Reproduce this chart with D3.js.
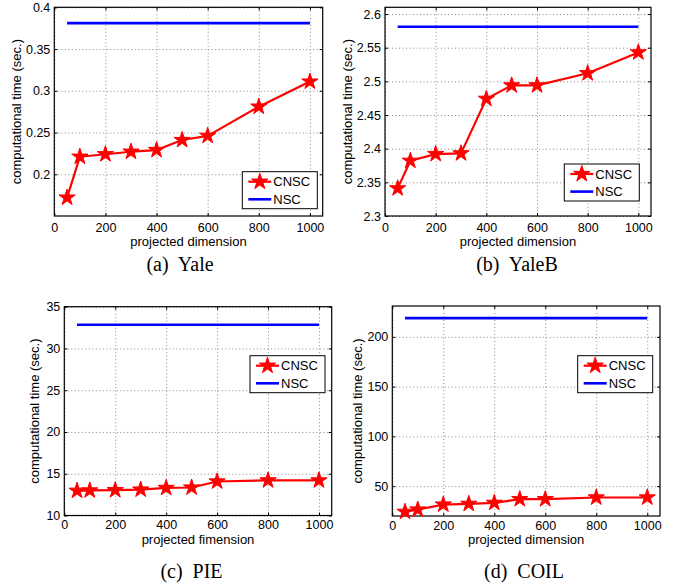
<!DOCTYPE html>
<html>
<head>
<meta charset="utf-8">
<script src="https://cdn.jsdelivr.net/npm/d3@7"></script>
<style>
  body { margin: 0; background: #fff; }
  text { font-family: "Liberation Sans", Arial, sans-serif; }
  .cap { font-family: "Liberation Serif", "Times New Roman", serif; }
</style>
</head>
<body>
<div id="chart"></div>
<script>
// ---- data ----
const dims = [50, 100, 200, 300, 400, 500, 600, 800, 1000];
const xTicks = [0, 200, 400, 600, 800, 1000];

const cnscYale  = [0.172, 0.221, 0.224, 0.227, 0.229, 0.241, 0.246, 0.281, 0.311];
const cnscYaleB = [2.341, 2.382, 2.392, 2.393, 2.474, 2.494, 2.494, 2.512, 2.543];
const cnscPIE   = [12.96, 13.0, 13.03, 13.1, 13.3, 13.35, 14.07, 14.2, 14.2];
const cnscCOIL  = [24.2, 26.5, 31.5, 32.2, 33.2, 36.9, 36.9, 38.6, 38.6];

const nscYale  = 0.381;
const nscYaleB = 2.581;
const nscPIE   = 32.84;
const nscCOIL  = 218.8;

const yTicksYale  = [0.2, 0.25, 0.3, 0.35, 0.4];
const yTicksYaleB = [2.3, 2.35, 2.4, 2.45, 2.5, 2.55, 2.6];
const yTicksPIE   = [10, 15, 20, 25, 30, 35];
const yTicksCOIL  = [50, 100, 150, 200];

const seriesNames = ['CNSC', 'NSC'];
const captions = ['(a)  Yale', '(b)  YaleB', '(c)  PIE', '(d)  COIL'];
const xLabels = ['projected dimension', 'projected dimension', 'projected fimension', 'projected dimension'];
const yLabel = 'computational time (sec.)';

// ---- layout ----
const W = 675, H = 588;
const panels = [
  { box: [54.3, 7.3, 322.7, 216], yDom: [0.15, 0.4], yTicks: yTicksYale, cnsc: cnscYale, nsc: nscYale,
    leg: [242.3, 171.7], ylabX: 18, cap: [180, 271], pad: 7, xlabDy: 29.5 },
  { box: [385, 7.3, 651, 216], yDom: [2.3, 2.61], yTicks: yTicksYaleB, cnsc: cnscYaleB, nsc: nscYaleB,
    leg: [564.3, 164], ylabX: 348.5, cap: [517, 271], pad: 7, xlabDy: 29.5 },
  { box: [64.3, 306.7, 331.7, 515.5], yDom: [10, 35], yTicks: yTicksPIE, cnsc: cnscPIE, nsc: nscPIE,
    leg: [250, 355.7], ylabX: 36, cap: [191.5, 578], pad: 5, xlabDy: 28.5 },
  { box: [392.3, 306, 660, 516], yDom: [20, 231], yTicks: yTicksCOIL, cnsc: cnscCOIL, nsc: nscCOIL,
    leg: [577.7, 355.7], ylabX: 359, cap: [524, 578], pad: 5, xlabDy: 28 }
];

const svg = d3.select('#chart').append('svg')
  .attr('width', W).attr('height', H)
  .style('background', '#fff');

const star = d3.symbol().type(d3.symbolStar).size(82);
const fmtY = v => String(+v.toFixed(2));
const fmtX = d3.format('d');

panels.forEach((p, k) => {
  const [x0, y0, x1, y1] = p.box;
  const w = x1 - x0, h = y1 - y0;
  const g = svg.append('g').attr('transform', `translate(${x0},${y0})`);

  const x = d3.scaleLinear().domain([0, 1050]).range([0, w]);
  const y = d3.scaleLinear().domain(p.yDom).range([h, 0]);

  // grid (dotted)
  const grid = g.append('g').attr('class', 'grid');
  grid.append('g').call(d3.axisBottom(x).tickValues(xTicks).tickSize(h).tickFormat(''));
  grid.append('g').call(d3.axisLeft(y).tickValues(p.yTicks).tickSize(-w).tickFormat(''));
  grid.selectAll('.domain').remove();
  grid.selectAll('line').attr('stroke', '#888').attr('stroke-dasharray', '1,2.5');

  // axes with inward ticks on all four sides
  const ax = g.append('g').attr('class', 'axes');
  ax.append('g').attr('transform', `translate(0,${h})`)
    .call(d3.axisBottom(x).tickValues(xTicks).tickSizeInner(-3).tickSizeOuter(0)
      .tickPadding(p.pad).tickFormat(fmtX));
  ax.append('g')
    .call(d3.axisTop(x).tickValues(xTicks).tickSizeInner(-3).tickSizeOuter(0).tickFormat(''));
  ax.append('g')
    .call(d3.axisLeft(y).tickValues(p.yTicks).tickSizeInner(-3).tickSizeOuter(0)
      .tickPadding(4).tickFormat(fmtY));
  ax.append('g').attr('transform', `translate(${w},0)`)
    .call(d3.axisRight(y).tickValues(p.yTicks).tickSizeInner(-3).tickSizeOuter(0).tickFormat(''));
  ax.selectAll('.domain').remove();
  ax.selectAll('text').attr('font-size', 12.5).attr('fill', '#000')
    .attr('font-family', '"Liberation Sans", Arial, sans-serif');
  ax.selectAll('line').attr('stroke', '#000');

  g.append('rect').attr('width', w).attr('height', h)
    .attr('fill', 'none').attr('stroke', '#000').attr('stroke-width', 1.2);

  // NSC constant line
  const nscLine = d3.line().x(d => x(d)).y(() => y(p.nsc));
  g.append('path').datum([dims[0], dims[dims.length - 1]])
    .attr('d', nscLine).attr('fill', 'none').attr('stroke', '#0000ff').attr('stroke-width', 2.6);

  // CNSC line + stars
  const line = d3.line().x((d, i) => x(dims[i])).y(d => y(d));
  g.append('path').datum(p.cnsc)
    .attr('d', line).attr('fill', 'none').attr('stroke', '#ff0000').attr('stroke-width', 2.2)
    .attr('stroke-linejoin', 'round');
  g.selectAll('.star').data(p.cnsc).join('path')
    .attr('class', 'star')
    .attr('d', star)
    .attr('transform', (d, i) => `translate(${x(dims[i])},${y(d)})`)
    .attr('fill', '#ff0000').attr('stroke', '#ff0000').attr('stroke-width', 1);

  // axis labels
  svg.append('text')
    .attr('x', x0 + w / 2).attr('y', y1 + p.xlabDy)
    .attr('text-anchor', 'middle').attr('font-size', 13)
    .text(xLabels[k]);
  svg.append('text')
    .attr('transform', `translate(${p.ylabX},${y0 + h / 2}) rotate(-90)`)
    .attr('text-anchor', 'middle').attr('dominant-baseline', 'middle').attr('font-size', 13)
    .text(yLabel);

  // legend
  const [lx, ly] = p.leg;
  const lg = svg.append('g').attr('transform', `translate(${lx},${ly})`);
  lg.append('rect').attr('width', 75).attr('height', 37)
    .attr('fill', '#fff').attr('stroke', '#000').attr('stroke-width', 1);
  const colors = ['#ff0000', '#0000ff'];
  seriesNames.forEach((name, i) => {
    const ry = 10 + i * 17.6;
    lg.append('line').attr('x1', 6).attr('x2', 29).attr('y1', ry).attr('y2', ry)
      .attr('stroke', colors[i]).attr('stroke-width', i ? 2.6 : 2.2);
    if (i === 0) {
      lg.append('path').attr('d', star).attr('transform', `translate(17.5,${ry})`)
        .attr('fill', '#ff0000').attr('stroke', '#ff0000');
    }
    lg.append('text').attr('x', 31).attr('y', ry).attr('dominant-baseline', 'central')
      .attr('font-size', 13).text(name);
  });

  // caption
  svg.append('text').attr('class', 'cap')
    .attr('x', p.cap[0]).attr('y', p.cap[1])
    .attr('text-anchor', 'middle').attr('font-size', 20)
    .style('white-space', 'pre')
    .text(captions[k]);
});
</script>
</body>
</html>
